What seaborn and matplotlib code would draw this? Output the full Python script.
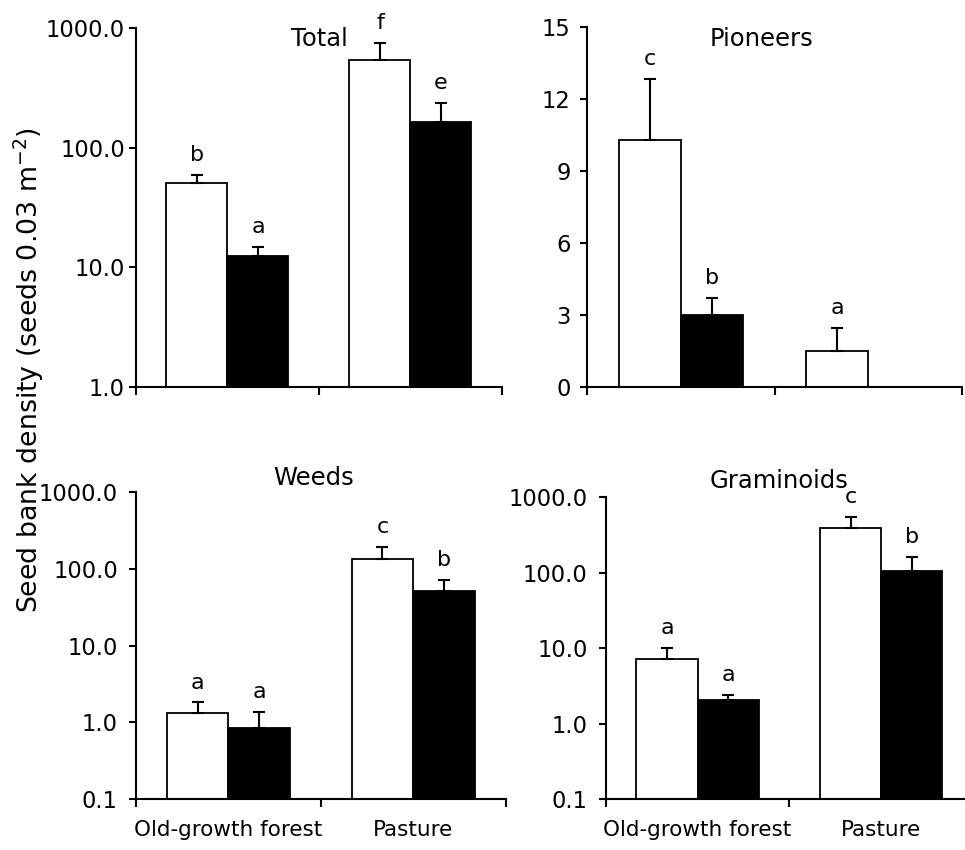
import numpy as np
import pandas as pd
import matplotlib
matplotlib.use("Agg")
import matplotlib.pyplot as plt
from matplotlib.ticker import FixedLocator, FuncFormatter, NullLocator, NullFormatter
import seaborn as sns

# ---------------- data ----------------
categories = ["Old-growth forest", "Pasture"]
series = ["Open bars", "Filled bars"]

total_white = [50.3, 539.0]
total_white_se = [9.1, 209.0]
total_black = [12.4, 163.0]
total_black_se = [2.3, 73.0]
total_white_letters = ["b", "f"]
total_black_letters = ["a", "e"]

pioneers_white = [10.32, 1.51]
pioneers_white_se = [2.51, 0.95]
pioneers_black = [3.03, 0.0]
pioneers_black_se = [0.68, 0.0]
pioneers_white_letters = ["c", "a"]
pioneers_black_letters = ["b", ""]

weeds_white = [1.33, 137.0]
weeds_white_se = [0.49, 56.0]
weeds_black = [0.84, 51.5]
weeds_black_se = [0.53, 20.5]
weeds_white_letters = ["a", "c"]
weeds_black_letters = ["a", "b"]

gram_white = [7.13, 393.0]
gram_white_se = [2.84, 152.0]
gram_black = [2.06, 107.0]
gram_black_se = [0.33, 54.0]
gram_white_letters = ["a", "c"]
gram_black_letters = ["a", "b"]

panel_titles = ["Total", "Pioneers", "Weeds", "Graminoids"]
log_ticks_top = [1, 10, 100, 1000]
log_ticks_bottom = [0.1, 1, 10, 100, 1000]
lin_ticks = [0, 3, 6, 9, 12, 15]
ylabel = "Seed bank density (seeds 0.03 m$^{-2}$)"

# ---------------- style ----------------
sns.set_style("ticks")
plt.rcParams["font.family"] = ["DejaVu Sans"]
plt.rcParams["axes.linewidth"] = 1.5
for key in ["text.color", "axes.labelcolor", "xtick.color", "ytick.color", "axes.edgecolor"]:
    plt.rcParams[key] = "black"

fig = plt.figure(figsize=(9.65, 8.5), dpi=100)
fig.patch.set_facecolor("white")

positions = [
    [0.1409, 0.5447, 0.3793, 0.4224],
    [0.6086, 0.5444, 0.3883, 0.4235],
    [0.1409, 0.0600, 0.3831, 0.3608],
    [0.6277, 0.0600, 0.3806, 0.3549],
]
panels = [
    (total_white, total_white_se, total_black, total_black_se, total_white_letters, total_black_letters),
    (pioneers_white, pioneers_white_se, pioneers_black, pioneers_black_se, pioneers_white_letters, pioneers_black_letters),
    (weeds_white, weeds_white_se, weeds_black, weeds_black_se, weeds_white_letters, weeds_black_letters),
    (gram_white, gram_white_se, gram_black, gram_black_se, gram_white_letters, gram_black_letters),
]
title_pos = [(0.5, 0.950), (0.465, 0.949), (0.48, 1.024), (0.472, 1.030)]
ytick_pad = [3, 7, 8, 8]

for i, (pos, pdata) in enumerate(zip(positions, panels)):
    wm, wse, bm, bse, wl, bl = pdata
    ax = fig.add_axes(pos)
    df = pd.DataFrame({
        "habitat": categories * 2,
        "series": [series[0]] * 2 + [series[1]] * 2,
        "density": list(wm) + list(bm),
    })
    sns.barplot(data=df, x="habitat", y="density", hue="series",
                order=categories, hue_order=series,
                palette=["white", "black"], edgecolor="black", linewidth=1.3,
                width=2 / 3, errorbar=None, legend=False, ax=ax, saturation=1)

    if i == 1:
        ax.set_ylim(0, 15)
        ax.yaxis.set_major_locator(FixedLocator(lin_ticks))
        ax.yaxis.set_major_formatter(FuncFormatter(lambda v, p: f"{v:.0f}"))
    else:
        ax.set_yscale("log")
        ticks = log_ticks_top if i == 0 else log_ticks_bottom
        ax.set_ylim(ticks[0], ticks[-1])
        ax.yaxis.set_major_locator(FixedLocator(ticks))
        ax.yaxis.set_major_formatter(FuncFormatter(lambda v, p: f"{v:.1f}"))
        ax.yaxis.set_minor_locator(NullLocator())

    # error bars and letters
    for cont, means, ses, letters in zip(ax.containers, [wm, bm], [wse, bse], [wl, bl]):
        for bar, m, s, let in zip(cont, means, ses, letters):
            if m <= 0:
                continue
            xc = bar.get_x() + bar.get_width() / 2
            ax.errorbar([xc], [m], yerr=[[0], [s]], fmt="none", ecolor="black",
                        elinewidth=1.5, capsize=4, capthick=1.5, zorder=3)
            if let:
                ax.annotate(let, xy=(xc, m + s), xytext=(0, 10), textcoords="offset points",
                            ha="center", va="baseline", fontsize=16)

    ax.set_xlim(-0.5, 1.5)
    ax.xaxis.set_major_locator(FixedLocator([-0.5, 0.5, 1.5]))
    ax.xaxis.set_major_formatter(NullFormatter())
    ax.xaxis.set_minor_locator(FixedLocator([0, 1]))
    if i >= 2:
        ax.set_xticklabels(categories, minor=True)
    else:
        ax.xaxis.set_minor_formatter(NullFormatter())
    ax.tick_params(axis="x", which="major", direction="out", length=6, width=1.5)
    ax.tick_params(axis="x", which="minor", length=0, pad=15, labelsize=15.5)
    ax.tick_params(axis="y", which="major", direction="out", length=5, width=1.5,
                   pad=ytick_pad[i], labelsize=16.3)
    ax.set_xlabel("")
    ax.set_ylabel("")
    sns.despine(ax=ax)
    for sp in ["left", "bottom"]:
        ax.spines[sp].set_linewidth(1.5)
    ax.set_facecolor("white")
    tx, ty = title_pos[i]
    ax.text(tx, ty, panel_titles[i], transform=ax.transAxes, ha="center",
            va="baseline", fontsize=17.5, clip_on=False)

fig.text(29 / 965, 1 - 370 / 850, ylabel, rotation=90, ha="center", va="center",
         fontsize=19.3)

fig.savefig("out.png", dpi=100, facecolor="white")
